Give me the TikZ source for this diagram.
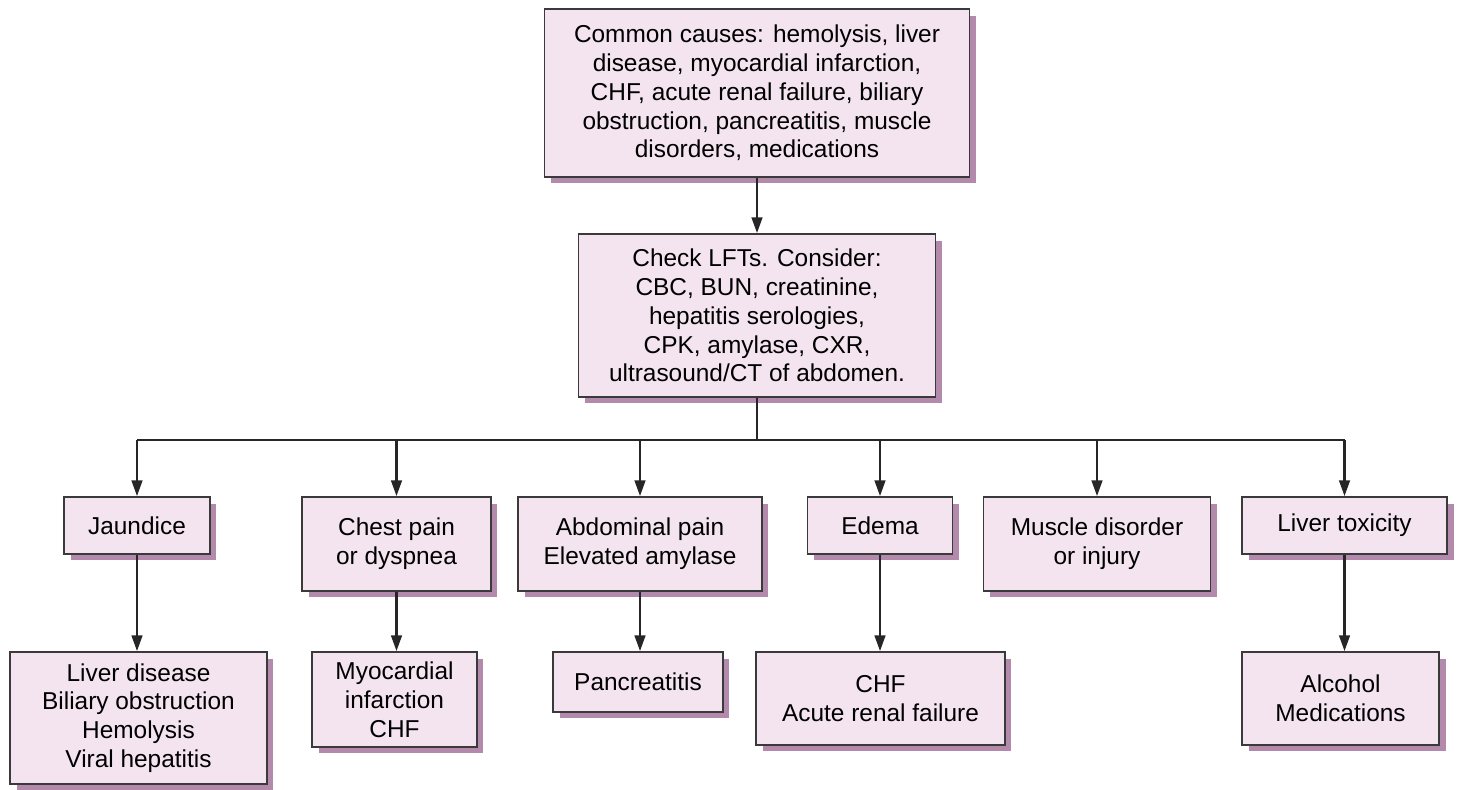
\documentclass[tikz,border=0pt]{standalone}
\usepackage{fontspec}
\setmainfont{Liberation Sans}
\usetikzlibrary{arrows.meta,shadows,positioning}
\definecolor{boxfill}{HTML}{F3E4EF}
\definecolor{boxshadow}{HTML}{B38AAB}
\definecolor{boxline}{HTML}{3A3A3A}
\tikzset{
  basic/.style   = {draw=boxline, line width=0.9pt, fill=boxfill, align=center,
                    inner sep=0pt, font=\fontsize{13.9}{16.4}\selectfont,
                    drop shadow={shadow xshift=0.13cm, shadow yshift=-0.13cm,
                                 fill=boxshadow, opacity=1}},
  root/.style    = {basic, minimum width=8.5cm, minimum height=3.36cm},
  check/.style   = {basic, minimum width=7.14cm, minimum height=3.26cm},
  level 2/.style = {basic},
  level 3/.style = {basic},
  conn/.style    = {draw=black!85, line width=1.5pt}
}

\begin{document}
\begin{tikzpicture}[x=0.02cm, y=-0.02cm,
  >={Triangle[length=9pt,width=6pt]}]

\useasboundingbox (0,0) rectangle (1463,790);

\node[root] (root) at (757,93) {Common causes: hemolysis, liver\\disease, myocardial infarction,\\CHF, acute renal failure, biliary\\obstruction, pancreatitis, muscle\\disorders, medications};
\node[check] (check) at (757,315.5) {Check LFTs. Consider:\\CBC, BUN, creatinine,\\hepatitis serologies,\\CPK, amylase, CXR,\\ultrasound/CT of abdomen.};

\node[level 2, minimum width=2.92cm, minimum height=1.14cm] (c1) at (137,525.5) {Jaundice};
\node[level 2, minimum width=3.78cm, minimum height=1.88cm] (c2) at (396.5,544) {Chest pain\\or dyspnea};
\node[level 2, minimum width=4.88cm, minimum height=1.88cm] (c3) at (640,544) {Abdominal pain\\Elevated amylase};
\node[level 2, minimum width=2.90cm, minimum height=1.14cm] (c4) at (880,525.5) {Edema};
\node[level 2, minimum width=4.54cm, minimum height=1.88cm] (c5) at (1097,544) {Muscle disorder\\or injury};
\node[level 2, minimum width=4.10cm, minimum height=1.14cm] (c6) at (1344.5,525.5) {Liver toxicity};

\node[level 3, minimum width=5.14cm, minimum height=2.64cm] (c11) at (138.5,718) {Liver disease\\Biliary obstruction\\Hemolysis\\Viral hepatitis};
\node[level 3, minimum width=3.30cm, minimum height=1.90cm] (c21) at (394.5,699.5) {Myocardial\\infarction\\CHF};
\node[level 3, minimum width=3.40cm, minimum height=1.20cm] (c31) at (638,682) {Pancreatitis};
\node[level 3, minimum width=4.98cm, minimum height=1.86cm] (c41) at (880.5,698.5) {CHF\\Acute renal failure};
\node[level 3, minimum width=3.94cm, minimum height=1.86cm] (c61) at (1340.5,698.5) {Alcohol\\Medications};

\coordinate (bus) at (0,440);

\draw[conn, ->] (root) -- (check);
\draw[conn] (check.south) -- (check.south |- bus);
\draw[conn] (c1.north |- bus) -- (c6.north |- bus);

\foreach \value in {1,...,6}
  \draw[conn, ->] (c\value.north |- bus) -- (c\value.north);

\foreach \value in {1,2,3,4,6}
  \draw[conn, ->] (c\value.south) -- (c\value.south |- c\value1.north);
\end{tikzpicture}
\end{document}
